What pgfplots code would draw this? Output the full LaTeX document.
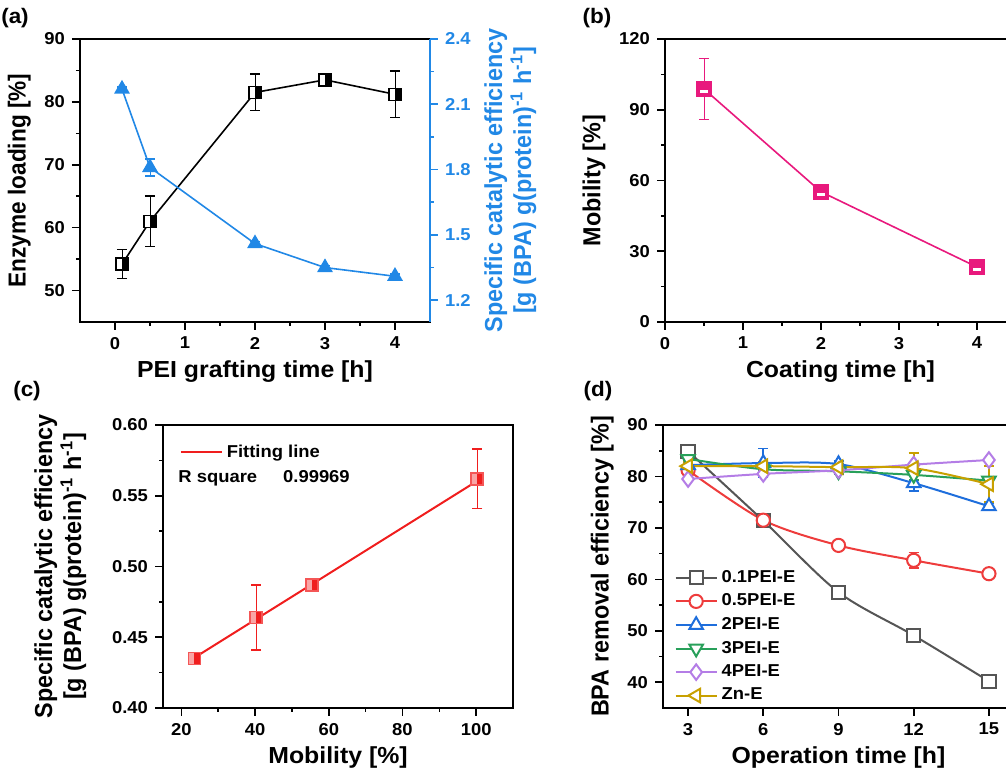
\documentclass[border=0pt]{standalone}
\usepackage{fontspec}
\setmainfont{Liberation Sans}[FakeStretch=1.07]
\newfontfamily\ylabfont{Liberation Sans}[FakeStretch=0.95]
\newfontfamily\ylabfontn{Liberation Sans}[FakeStretch=0.92]
\usepackage{pgfplots}
\pgfplotsset{compat=1.18}
\usetikzlibrary{plotmarks}

\definecolor{effblue}{RGB}{33,136,230}
\definecolor{mobpink}{RGB}{232,25,125}
\definecolor{fitred}{RGB}{240,30,30}
\definecolor{cgray}{RGB}{85,85,85}
\definecolor{cred}{RGB}{238,60,60}
\definecolor{cblue}{RGB}{30,110,220}
\definecolor{cgreen}{RGB}{40,160,90}
\definecolor{cpurple}{RGB}{180,125,230}
\definecolor{cgold}{RGB}{200,160,0}

% square, left half white, right half in the fill colour
\pgfdeclareplotmark{sqright}{%
  \begin{pgfscope}\pgfsetfillcolor{white}%
  \pgfpathrectangle{\pgfqpoint{-\pgfplotmarksize}{-\pgfplotmarksize}}{\pgfqpoint{\pgfplotmarksize}{2\pgfplotmarksize}}%
  \pgfusepathqfill\end{pgfscope}%
  \pgfpathrectangle{\pgfqpoint{0pt}{-\pgfplotmarksize}}{\pgfqpoint{\pgfplotmarksize}{2\pgfplotmarksize}}%
  \pgfusepathqfill
  \pgfpathrectangle{\pgfqpoint{-\pgfplotmarksize}{-\pgfplotmarksize}}{\pgfqpoint{2\pgfplotmarksize}{2\pgfplotmarksize}}%
  \pgfusepathqstroke}
% square, left half light, right half in the fill colour
\pgfdeclareplotmark{sqlight}{%
  \begin{pgfscope}\pgfsetfillcolor{fitred!40}%
  \pgfpathrectangle{\pgfqpoint{-\pgfplotmarksize}{-\pgfplotmarksize}}{\pgfqpoint{\pgfplotmarksize}{2\pgfplotmarksize}}%
  \pgfusepathqfill\end{pgfscope}%
  \pgfpathrectangle{\pgfqpoint{0pt}{-\pgfplotmarksize}}{\pgfqpoint{\pgfplotmarksize}{2\pgfplotmarksize}}%
  \pgfusepathqfill
  \pgfpathrectangle{\pgfqpoint{-\pgfplotmarksize}{-\pgfplotmarksize}}{\pgfqpoint{2\pgfplotmarksize}{2\pgfplotmarksize}}%
  \pgfusepathqstroke}
% filled square with a white bar in the lower part
\pgfdeclareplotmark{sqbar}{%
  \pgfpathrectangle{\pgfqpoint{-\pgfplotmarksize}{-\pgfplotmarksize}}{\pgfqpoint{2\pgfplotmarksize}{2\pgfplotmarksize}}%
  \pgfusepathqfillstroke
  \begin{pgfscope}\pgfsetfillcolor{white}%
  \pgfpathrectangle{\pgfqpoint{-0.6\pgfplotmarksize}{-0.55\pgfplotmarksize}}{\pgfqpoint{1.2\pgfplotmarksize}{0.35\pgfplotmarksize}}%
  \pgfusepathqfill\end{pgfscope}}

\pgfplotsset{
  panel/.style={
    scale only axis,
    axis line style={line width=1pt},
    tick align=outside, xtick pos=bottom, ytick pos=left,
    major tick length=4pt, minor tick length=2pt,
    every tick/.style={black, line width=0.8pt},
    minor x tick num=1, minor y tick num=1,
    tick label style={font=\bfseries\fontsize{8.6}{10}\selectfont},
    xlabel style={font=\bfseries\fontsize{11.6}{13}\selectfont, yshift=1pt},
    ylabel style={font=\ylabfont\bfseries\fontsize{12.3}{14.5}\selectfont, align=center},
    /pgf/number format/assume math mode=true,
    error bars/error mark options={rotate=90, mark size=2.5pt, line width=0.8pt},
  },
}

\begin{document}
\begin{tikzpicture}

% (a) enzyme loading and specific efficiency
\begin{axis}[panel, at={(40pt,223.5pt)}, width=175pt, height=141.5pt,
  xmin=-0.5, xmax=4.5, ymin=45, ymax=90,
  xtick={0,1,2,3,4}, ytick={50,60,70,80,90},
  xlabel={PEI grafting time [h]}, ylabel={Enzyme loading [\%]},
  ylabel style={font=\ylabfontn\bfseries\fontsize{12.3}{14.5}\selectfont}]
\addplot[black, line width=0.8pt, mark=sqright, mark size=3pt,
  mark options={fill=black, line width=0.8pt},
  error bars/.cd, y dir=both, y explicit] coordinates {
  (0.1,54.2) +- (0,2.3)
  (0.5,61.0) +- (0,4.0)
  (2,81.5) +- (0,2.9)
  (3,83.5) +- (0,0.4)
  (4,81.2) +- (0,3.7)
};
\end{axis}
\begin{axis}[panel, at={(40pt,223.5pt)}, width=175pt, height=141.5pt,
  xmin=-0.5, xmax=4.5, ymin=1.1, ymax=2.4,
  axis x line=none, axis y line*=right, ytick pos=right,
  ytick={1.2,1.5,1.8,2.1,2.4}, minor y tick num=1,
  y axis line style={effblue, line width=1pt},
  every tick/.style={effblue, line width=0.8pt},
  yticklabel style={effblue, /pgf/number format/fixed, /pgf/number format/precision=1, /pgf/number format/fixed zerofill},
  ylabel={Specific catalytic efficiency\\{}[g (BPA) g(protein)\textsuperscript{-1} h\textsuperscript{-1}]},
  ylabel style={effblue}]
\addplot[effblue, line width=0.8pt, mark=triangle*, mark size=3.8pt,
  mark options={fill=effblue},
  error bars/.cd, y dir=both, y explicit] coordinates {
  (0.1,2.17) +- (0,0.01)
  (0.5,1.81) +- (0,0.04)
  (2,1.46) +- (0,0.01)
  (3,1.35) +- (0,0.01)
  (4,1.31) +- (0,0.01)
};
\end{axis}

% (b) mobility vs coating time
\begin{axis}[panel, at={(332.5pt,223.5pt)}, width=175.5pt, height=141.5pt,
  xmin=0, xmax=4.5, ymin=0, ymax=120,
  xtick={0,1,2,3,4}, ytick={0,30,60,90,120},
  xlabel={Coating time [h]}, ylabel={Mobility [\%]}]
\addplot[mobpink, line width=0.8pt, mark=sqbar, mark size=3.5pt,
  mark options={fill=mobpink, line width=0.8pt},
  error bars/.cd, y dir=both, y explicit] coordinates {
  (0.5,98.8) +- (0,13)
  (2,55.2) +- (0,2.5)
  (4,23.3) +- (0,1.5)
};
\end{axis}

% (c) efficiency vs mobility
\begin{axis}[panel, at={(81.5pt,30.5pt)}, width=175pt, height=141.5pt,
  xmin=15, xmax=110, ymin=0.40, ymax=0.60,
  xtick={20,40,60,80,100}, ytick={0.40,0.45,0.50,0.55,0.60},
  yticklabel style={/pgf/number format/fixed, /pgf/number format/precision=2, /pgf/number format/fixed zerofill},
  xlabel={Mobility [\%]},
  ylabel={Specific catalytic efficiency\\{}[g (BPA) g(protein)\textsuperscript{-1} h\textsuperscript{-1}]},
  ylabel style={yshift=6pt},
  legend style={draw=none, fill=none, at={(0.03,0.96)}, anchor=north west,
    font=\bfseries\fontsize{8.6}{10}\selectfont},
  legend image code/.code={\draw[#1] (0cm,0cm) -- (0.72cm,0cm);}]
\addplot[fitred, only marks, mark=sqlight, mark size=3pt,
  mark options={fill=fitred, draw=fitred!75, line width=0.8pt}, forget plot,
  error bars/.cd, y dir=both, y explicit,
  error bar style={fitred}] coordinates {
  (23.5,0.435) +- (0,0.002)
  (40.3,0.464) +- (0,0.023)
  (55.5,0.487) +- (0,0.003)
  (100.3,0.562) +- (0,0.021)
};
\addplot[fitred, line width=1pt] coordinates {(23.5,0.4355) (100.3,0.5605)};
\addlegendentry{Fitting line}
\node[anchor=west, inner sep=0pt, font=\bfseries\fontsize{8.6}{10}\selectfont]
  at (axis description cs:0.043,0.81) {R square\hspace{13pt}0.99969};
\end{axis}

% (d) BPA removal vs operation time
\begin{axis}[panel, at={(331.5pt,30.5pt)}, width=175.5pt, height=141.5pt,
  xmin=2, xmax=16, ymin=35, ymax=90,
  xtick={3,6,9,12,15}, ytick={40,50,60,70,80,90}, minor x tick num=0,
  xlabel={Operation time [h]}, ylabel={BPA removal efficiency [\%]},
  legend cell align=left,
  legend style={draw=none, fill=none, at={(0.015,-0.012)}, anchor=south west,
    font=\bfseries\fontsize{8.6}{10}\selectfont, row sep=0.3pt},
  legend image code/.code={\draw[mark repeat=2, mark phase=2, #1]
    plot coordinates {(0cm,0cm) (0.36cm,0cm) (0.72cm,0cm)};},
  every axis plot/.append style={line width=1pt, smooth, mark size=3.3pt},
  error bars/error bar style={line width=0.8pt}]
\addplot[cgray, mark=square*, mark options={fill=white, solid},
  error bars/.cd, y dir=both, y explicit] coordinates {
  (3,84.9) +- (0,0.4) (6,71.4) +- (0,0.5) (9,57.5) +- (0,0.5) (12,49.1) +- (0,0.5) (15,40.2) +- (0,0.5)};
\addlegendentry{0.1PEI-E}
\addplot[cred, mark=*, mark options={fill=white, solid},
  error bars/.cd, y dir=both, y explicit] coordinates {
  (3,81.2) +- (0,0.5) (6,71.5) +- (0,0.6) (9,66.6) +- (0,0.6) (12,63.7) +- (0,1.5) (15,61.1) +- (0,0.4)};
\addlegendentry{0.5PEI-E}
\addplot[cblue, mark=triangle*, mark size=3.9pt, mark options={fill=white, solid},
  error bars/.cd, y dir=both, y explicit] coordinates {
  (3,82.2) +- (0,0.8) (6,82.6) +- (0,2.8) (9,82.4) +- (0,0.6) (12,78.7) +- (0,1.5) (15,74.2) +- (0,0.6)};
\addlegendentry{2PEI-E}
\addplot[cgreen, mark=triangle*, mark size=3.9pt, mark options={fill=white, solid, rotate=180},
  error bars/.cd, y dir=both, y explicit] coordinates {
  (3,83.4) +- (0,0.5) (6,81.4) +- (0,0.5) (9,81.0) +- (0,0.5) (12,80.3) +- (0,1.0) (15,79.2) +- (0,0.8)};
\addlegendentry{3PEI-E}
\addplot[cpurple, mark=diamond*, mark size=3.9pt, mark options={fill=white, solid},
  error bars/.cd, y dir=both, y explicit] coordinates {
  (3,79.5) +- (0,0.4) (6,80.5) +- (0,0.4) (9,81.2) +- (0,0.4) (12,82.3) +- (0,0.5) (15,83.2) +- (0,0.4)};
\addlegendentry{4PEI-E}
\addplot[cgold, mark=triangle*, mark size=3.9pt, mark options={fill=white, solid, rotate=90},
  error bars/.cd, y dir=both, y explicit] coordinates {
  (3,82.0) +- (0,0.8) (6,82.0) +- (0,0.8) (9,81.8) +- (0,0.6) (12,81.6) +- (0,3.0) (15,78.5) +- (0,3.5)};
\addlegendentry{Zn-E}
\end{axis}

% panel letters
\node[font=\bfseries\fontsize{10.5}{12}\selectfont] at (7.5pt,375.5pt) {(a)};
\node[font=\bfseries\fontsize{10.5}{12}\selectfont] at (298.5pt,375.5pt) {(b)};
\node[font=\bfseries\fontsize{10.5}{12}\selectfont] at (13.5pt,189pt) {(c)};
\node[font=\bfseries\fontsize{10.5}{12}\selectfont] at (299pt,189pt) {(d)};

\pgfresetboundingbox
\path[use as bounding box] (0,0) rectangle (503pt,384.5pt);
\end{tikzpicture}
\end{document}
